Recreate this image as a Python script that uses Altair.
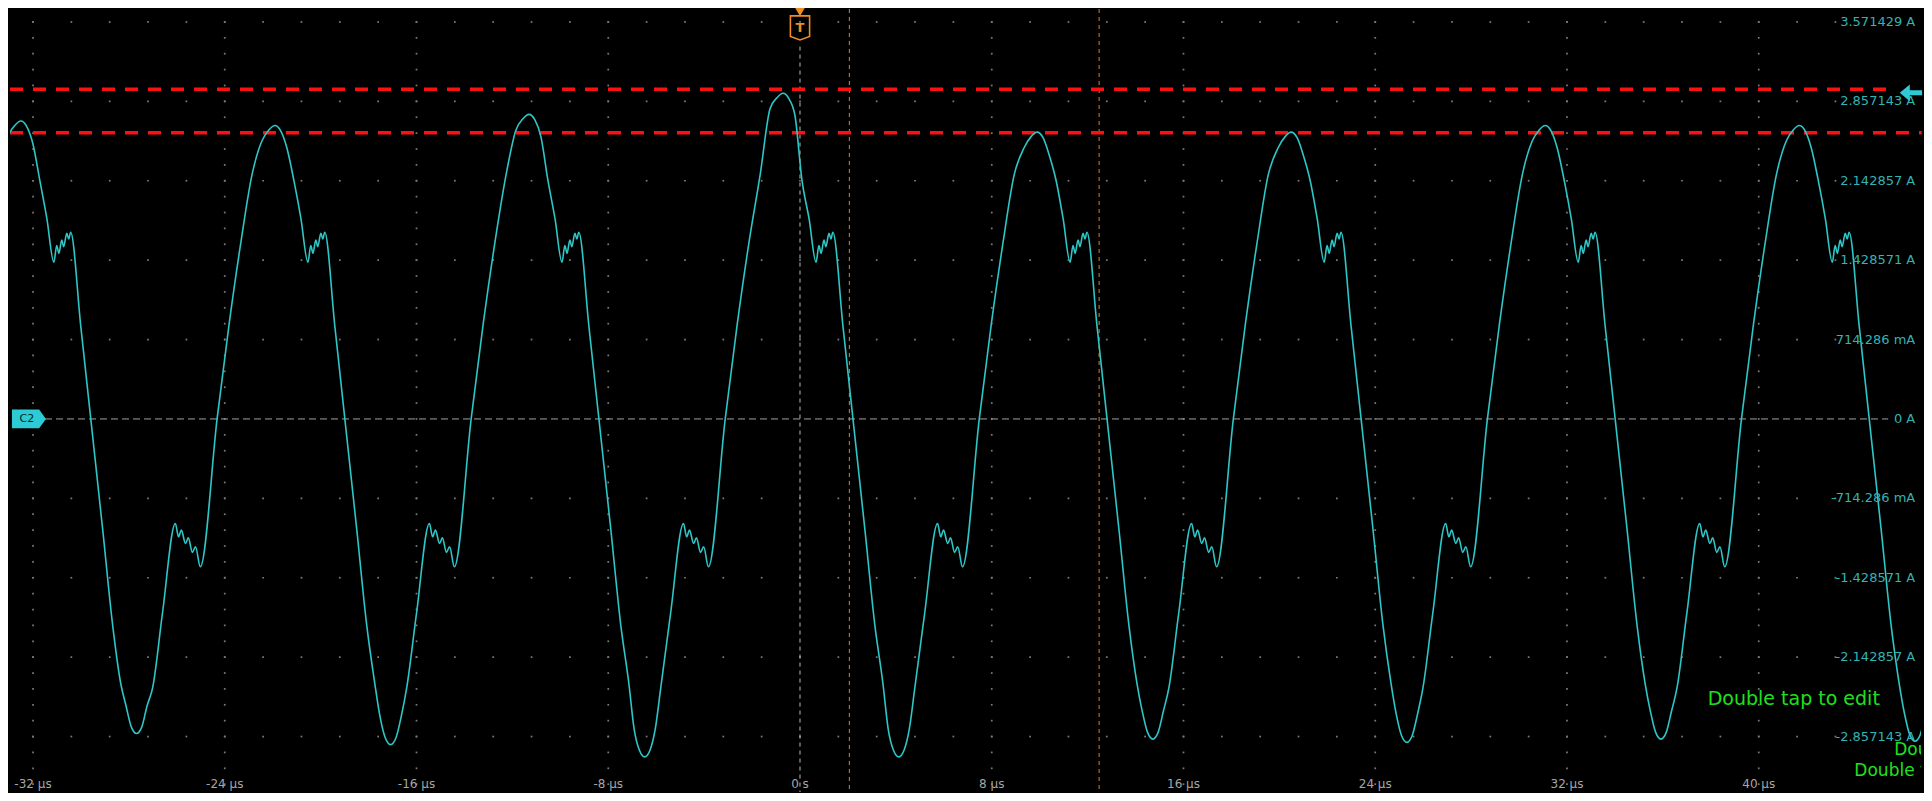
import altair as alt
import pandas as pd

# ---------------- data ----------------
# rising zero crossings of each cycle (µs), peak and trough current of each cycle (A)
zero_up_us = [-34.92, -24.32, -13.72, -3.12, 7.48, 18.08, 28.68, 39.28]
peak_A = [2.68, 2.64, 2.74, 2.93, 2.58, 2.58, 2.64, 2.64]
trough_A = [-2.83, -2.93, -3.04, -3.04, -2.88, -2.91, -2.88, -2.90]

# one cycle: offset from the rising zero crossing (µs),
# current (A); "P"/"T" rows are relative to that cycle's peak/trough
shape_offset_us = [0.00, 0.50, 1.00, 1.46, 1.87, 2.16, 2.41, 2.66, 2.91, 3.20, 3.50, 3.79,
                   3.91, 4.00, 4.12, 4.20, 4.33, 4.41, 4.49, 4.91, 5.33, 5.83, 6.24, 6.58,
                   6.80, 7.02, 7.24, 7.46, 7.68, 7.91, 8.32, 8.86,
                   8.99, 9.11, 9.28, 9.40, 9.57, 9.70, 9.90]
shape_value = [0.00, 0.85, 1.60, 2.20, -0.14, -0.04, 0.00, -0.05, -0.20, 2.15, 1.80, 1.41,
               1.56, 1.49, 1.61, 1.55, 1.67, 1.62, 1.68, 0.84, 0.00, -1.00, -1.85, -2.38,
               0.25, 0.06, 0.00, 0.06, 0.25, -2.42, -1.75, -0.94,
               -1.06, -1.00, -1.12, -1.07, -1.20, -1.15, -1.33]
shape_ref = ["", "", "", "", "P", "P", "P", "P", "P", "", "", "",
             "", "", "", "", "", "", "", "", "", "", "", "",
             "T", "T", "T", "T", "T", "", "", "",
             "", "", "", "", "", "", ""]

# axis labels
y_label_values = [3.571429, 2.857143, 2.142857, 1.428571, 0.714286, 0.0,
                  -0.714286, -1.428571, -2.142857, -2.857143]
y_label_texts = ["3.571429 A", "2.857143 A", "2.142857 A", "1.428571 A", "714.286 mA", "0 A",
                 "-714.286 mA", "-1.428571 A", "-2.142857 A", "-2.857143 A"]
x_label_values = [-32, -24, -16, -8, 0, 8, 16, 24, 32, 40]
x_label_texts = ["-32 µs", "-24 µs", "-16 µs", "-8 µs", "0 s", "8 µs", "16 µs", "24 µs", "32 µs", "40 µs"]

# cursors / markers
red_levels_A = [2.965, 2.575]
red_end_us = [45.6, 46.8]
cursor_us = [2.06, 12.48]
arrow_level_A = [2.934]

# ---------------- build tables ----------------
t_vals, i_vals = [], []
for z, p, tr in zip(zero_up_us, peak_A, trough_A):
    for off, base, ref in zip(shape_offset_us, shape_value, shape_ref):
        t_vals.append(round(z + off, 3))
        i_vals.append(base + (p if ref == "P" else tr if ref == "T" else 0.0))
wave = pd.DataFrame({"t": t_vals, "i": i_vals})

XD = [-32.96, 46.77]
YD = [-3.356, 3.688]
xs = alt.Scale(domain=XD, nice=False, zero=False)
ys = alt.Scale(domain=YD, nice=False, zero=False)
X = lambda f: alt.X(f, type="quantitative", scale=xs, axis=None)
Y = lambda f: alt.Y(f, type="quantitative", scale=ys, axis=None)

div_A = 0.714286
rows = [k * div_A for k in [-4, -3, -2, -1, 1, 2, 3, 4, 5]]
row_dots = pd.DataFrame([{"t": -32 + 1.6 * j, "i": r} for r in rows for j in range(48)])
cols = [c for c in x_label_values if c != 0]
col_dots = pd.DataFrame([{"t": c, "i": j * div_A / 5} for c in cols for j in range(-23, 26)])
dots = pd.concat([row_dots, col_dots])

grid = alt.Chart(dots).mark_square(size=3, color="#7a7a7a", opacity=1).encode(x=X("t"), y=Y("i"))

zero_line = alt.Chart(pd.DataFrame({"t": [-31.5], "t2": [45.4], "i": [0.0]})).mark_rule(
    color="#a0a0a0", strokeWidth=1, strokeDash=[7, 4]).encode(x=X("t"), x2="t2", y=Y("i"))

trig_line = alt.Chart(pd.DataFrame({"t": [0.0], "i": [3.35], "i2": [YD[0]]})).mark_rule(
    color="#bdbdbd", strokeWidth=1, strokeDash=[4, 4]).encode(x=X("t"), y=Y("i"), y2="i2")

cur = alt.Chart(pd.DataFrame({"t": cursor_us, "i": [YD[1]] * 2, "i2": [YD[0]] * 2})).mark_rule(
    color="#d7832c", strokeWidth=1, strokeDash=[4, 4]).encode(x=X("t"), y=Y("i"), y2="i2")

red = alt.Chart(pd.DataFrame({"t": [XD[0], XD[0]], "t2": red_end_us, "i": red_levels_A})).mark_rule(
    color="#ff1010", strokeWidth=3.5, strokeDash=[13, 10]).encode(x=X("t"), x2="t2", y=Y("i"))

line = alt.Chart(wave).mark_line(color="#2ec6c6", strokeWidth=1.6, interpolate="monotone", clip=True).encode(
    x=X("t"), y=Y("i"), order="t:Q")

ylab = alt.Chart(pd.DataFrame({"t": [46.53] * len(y_label_values), "i": y_label_values, "s": y_label_texts})).mark_text(
    align="right", baseline="middle", font="DejaVu Sans", fontSize=13, color="#33b3b3").encode(
    x=X("t"), y=Y("i"), text="s:N")

xlab = alt.Chart(pd.DataFrame({"t": x_label_values, "i": [-3.284] * len(x_label_values), "s": x_label_texts})).mark_text(
    align="center", baseline="middle", font="DejaVu Sans", fontSize=12, color="#a6a6a6").encode(
    x=X("t"), y=Y("i"), text="s:N")

# C2 tag
c2_df = pd.DataFrame({"t": [-32.17], "i": [0.0], "s": ["C2"]})
c2_tag = alt.Chart(c2_df).mark_point(
    shape="M -1 -0.55 L 0.6 -0.55 L 1 0 L 0.6 0.55 L -1 0.55 Z", size=1156, filled=True,
    color="#2ccbd6", opacity=1).encode(x=X("t"), y=Y("i"))
c2_txt = alt.Chart(c2_df).mark_text(font="DejaVu Sans", fontSize=11, color="#03282a", dx=-2).encode(
    x=X("t"), y=Y("i"), text="s:N")

# trigger marker
t_df = pd.DataFrame({"t": [0.0], "i": [3.518], "s": ["T"]})
t_box = alt.Chart(t_df).mark_point(
    shape="M -0.8 -1 L 0.8 -1 L 0.8 0.72 L 0 1 L -0.8 0.72 Z", size=576, filled=False,
    color="#f08c22", strokeWidth=1.6, opacity=1).encode(x=X("t"), y=Y("i"))
t_txt = alt.Chart(t_df).mark_text(font="DejaVu Sans", fontSize=13, fontWeight="bold", color="#f08c22").encode(
    x=X("t"), y=Y("i"), text="s:N")
t_tri = alt.Chart(pd.DataFrame({"t": [0.0], "i": [3.66]})).mark_point(
    shape="triangle-down", size=90, filled=True, color="#f08c22", opacity=1).encode(x=X("t"), y=Y("i"))

# right arrow
arrow = alt.Chart(pd.DataFrame({"t": [46.35], "i": arrow_level_A})).mark_point(
    shape="M -1 0 L -0.1 -0.75 L -0.1 -0.22 L 1 -0.22 L 1 0.22 L -0.1 0.22 L -0.1 0.75 Z",
    size=500, filled=True, color="#2ccbd6", opacity=1).encode(x=X("t"), y=Y("i"))

# green notes (the two lower ones are cut by the right edge, as on the scope)
note_main = alt.Chart(pd.DataFrame({"t": [37.87], "i": [-2.52], "s": ["Double tap to edit"]})).mark_text(
    align="left", baseline="middle", font="DejaVu Sans", fontSize=19, color="#1fe01f", clip=True).encode(
    x=X("t"), y=Y("i"), text="s:N")
notes_cut = alt.Chart(pd.DataFrame({"t": [45.65, 43.99], "i": [-2.975, -3.17],
                                    "s": ["Double tap to edit"] * 2})).mark_text(
    align="left", baseline="middle", font="DejaVu Sans", fontSize=17, color="#1fe01f", clip=True).encode(
    x=X("t"), y=Y("i"), text="s:N")

chart = alt.layer(grid, zero_line, trig_line, cur, red, line, ylab, xlab, c2_tag, c2_txt,
                  t_box, t_txt, t_tri, arrow, note_main, notes_cut).properties(
    width=1916, height=785, background="black", padding=0,
    autosize=alt.AutoSizeParams(type="fit", contains="padding")
).configure_view(stroke=None)

chart.save("out.html", embed_options={"renderer": "svg", "actions": False})
